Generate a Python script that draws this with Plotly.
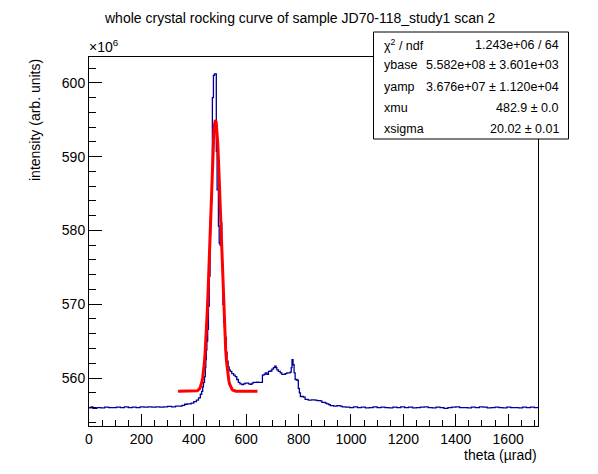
import plotly.graph_objects as go
import math

# ---------------- data ----------------
# histogram step outline: left edge of each step (theta, urad) and its content (x1e6)
theta_edges = [
    0, 8, 15, 30, 45, 60, 75, 90, 105, 120,
    135, 150, 165, 180, 195, 210, 225, 240, 255, 270,
    285, 300, 315, 330, 345, 355, 365, 375, 390, 400,
    410, 418, 425, 430, 434, 437, 441, 444, 446, 448,
    450, 453, 456, 459, 462, 464, 466, 469, 471, 475,
    479, 486, 489, 494, 497, 500, 503, 507, 511, 514,
    517, 520, 524, 527, 531, 535, 539, 545, 552, 558,
    564, 570, 576, 583, 590, 596, 609, 615, 622, 627,
    640, 646, 662, 668, 673, 679, 685, 692, 698, 704,
    709, 714, 717, 723, 730, 736, 749, 755, 768, 772,
    775, 779, 783, 787, 794, 799, 803, 807, 819, 825,
    837, 850, 863, 870, 883, 889, 902, 908, 915, 921,
    934, 947, 959, 966, 980, 995, 1010, 1025, 1040, 1055,
    1070, 1085, 1100, 1115, 1130, 1145, 1160, 1175, 1190, 1205,
    1220, 1235, 1250, 1265, 1280, 1295, 1310, 1325, 1340, 1355,
    1370, 1385, 1400, 1415, 1430, 1445, 1460, 1475, 1490, 1505,
    1520, 1535, 1550, 1565, 1580, 1595, 1610, 1625, 1640, 1655,
    1670, 1685, 1700, 1714]
intensity = [
    555.95, 556.1, 555.9, 556.0, 555.95, 556.05, 556.0, 556.0, 556.05, 556.0,
    556.1, 556.0, 556.05, 556.0, 556.1, 556.05, 556.1, 556.05, 556.1, 556.05,
    556.1, 556.15, 556.1, 556.2, 556.2, 556.3, 556.45, 556.5, 556.6, 556.8,
    557.0, 557.3, 557.8, 558.2, 558.8, 559.4, 560.2, 561.4, 562.5, 563.8,
    565.0, 566.6, 569.7, 573.8, 579.5, 582.0, 584.0, 588.2, 598.0, 601.0,
    601.2, 590.7, 585.5, 580.6, 578.3, 578.0, 581.0, 575.5, 570.0, 567.5,
    567.0, 565.5, 563.5, 562.3, 561.5, 561.1, 560.9, 560.6, 560.4, 560.2,
    559.8, 559.4, 559.2, 559.1, 559.2, 559.3, 559.2, 559.15, 559.3, 559.4,
    559.45, 559.4, 560.4, 560.5, 560.7, 560.5, 560.9, 560.95, 561.2, 561.4,
    561.6, 561.4, 561.1, 560.9, 560.7, 560.5, 560.6, 560.7, 560.8, 561.4,
    562.5, 561.8, 560.7, 559.8, 559.7, 558.6, 558.0, 557.5, 557.4, 557.1,
    557.0, 557.05, 557.0, 556.95, 556.9, 556.7, 556.6, 556.5, 556.4, 556.25,
    556.2, 556.25, 556.2, 556.1, 556.05, 556.0, 556.1, 556.0, 556.05, 555.95,
    556.0, 556.1, 556.0, 556.05, 556.0, 555.95, 556.05, 556.0, 556.1, 556.0,
    556.05, 555.95, 556.0, 556.05, 556.1, 556.0, 555.95, 556.05, 556.0, 555.9,
    556.0, 556.05, 556.1, 556.0, 556.0, 555.95, 556.05, 556.0, 556.1, 556.05,
    555.95, 556.0, 556.05, 556.0, 555.95, 556.05, 556.0, 556.0, 555.95, 556.05,
    556.0, 556.05, 556.0, 556.0]

# fit parameters (Gaussian + constant), as shown in the stats box
fit_names = ["ybase", "yamp", "xmu", "xsigma"]
fit_values = [5.582e8, 3.676e7, 482.9, 20.02]
fit_labels = ["5.582e+08", "3.676e+07", "482.9", "20.02"]
fit_errors = ["3.601e+03", "1.120e+04", "0.0", "0.01"]
chi2_ndf = "1.243e+06 / 64"
fit_range = [340, 643]

# ---------------- fit curve from the fit parameters ----------------
ybase, yamp, xmu, xsig = fit_values
n = 100
fx = [fit_range[0] + (fit_range[1] - fit_range[0]) * i / n for i in range(n + 1)]
fy = [(ybase + yamp * math.exp(-0.5 * ((x - xmu) / xsig) ** 2)) / 1e6 for x in fx]

fig = go.Figure()
fig.add_trace(go.Scatter(x=theta_edges, y=intensity,
                         mode="lines", line=dict(color="#000099", width=1.3, shape="hv"),
                         hoverinfo="skip", showlegend=False))
fig.add_trace(go.Scatter(x=fx, y=fy, mode="lines",
                         line=dict(color="#ff0000", width=3),
                         hoverinfo="skip", showlegend=False))

W, H = 598, 474
L, R, T, B = 89, 538, 57, 426
def px(xp):
    return (xp - L) / (R - L)
def py(yp):
    return (B - yp) / (B - T)

FONT = "Liberation Sans, Arial, Helvetica, sans-serif"
axis_common = dict(showline=True, mirror=True, linecolor="black", linewidth=1,
                   showgrid=False, zeroline=False, ticks="inside",
                   tickcolor="black", tickwidth=1,
                   tickfont=dict(family=FONT, size=14, color="black"))
fig.update_layout(
    width=W, height=H,
    margin=dict(l=L, r=W - R, t=T, b=H - B),
    paper_bgcolor="white", plot_bgcolor="white",
    xaxis=dict(range=[0, 1714], tick0=0, dtick=200, ticklen=12,
               minor=dict(dtick=50, ticklen=6, ticks="inside", tickcolor="black"),
               **axis_common),
    yaxis=dict(range=[553.5, 603.5], tick0=0, dtick=10, ticklen=13,
               minor=dict(dtick=2, ticklen=7, ticks="inside", tickcolor="black"),
               **axis_common),
    font=dict(family=FONT, color="black"),
)

def A(text, x, y, xa, ya, size, **kw):
    return dict(text=text, x=x, y=y, xref="paper", yref="paper", xanchor=xa,
                yanchor=ya, showarrow=False,
                font=dict(family=FONT, size=size, color="black"), **kw)

ann = [
    A("whole crystal rocking curve of sample JD70-118_study1 scan 2", px(300), py(18), "center", "middle", 14),
    A("×10<sup>6</sup>", px(87), py(57), "left", "bottom", 14),
    A("intensity (arb. units)", px(35), py(57), "center", "top", 14, textangle=-90),
    A("theta (µrad)", px(539), py(455), "right", "middle", 14),
]
rows_left = ["χ<sup>2</sup> / ndf"] + fit_names
rows_right = [chi2_ndf] + [f"{v} ± {e}" for v, e in zip(fit_labels, fit_errors)]
row_y = [44.5, 65.5, 86.5, 107.5, 128.5]
for lt, rt, yy in zip(rows_left, rows_right, row_y):
    ann.append(A(lt, px(382), py(yy), "left", "middle", 12.5))
    ann.append(A(rt, px(561), py(yy), "right", "middle", 12.5))
fig.update_layout(annotations=ann)

fig.add_shape(type="rect", xref="paper", yref="paper",
              x0=px(373.5), x1=px(568.5), y0=py(139), y1=py(32),
              line=dict(color="black", width=1), fillcolor="white", layer="above")

fig.write_html("out.html", config={"displayModeBar": False},
               post_script="document.body.style.margin='0px';")
